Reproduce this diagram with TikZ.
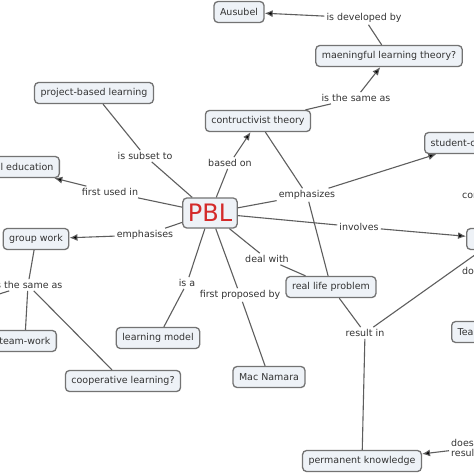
\documentclass[tikz,border=0pt]{standalone}
\usepackage{fontspec}
\setmainfont{DejaVu Sans}
\usetikzlibrary{arrows.meta}
\definecolor{boxfill}{HTML}{EEF2F7}
\definecolor{boxline}{HTML}{737373}
\definecolor{linkc}{HTML}{5E5E5E}
\definecolor{txt}{HTML}{333333}
\definecolor{pblred}{HTML}{D42A2A}
\tikzset{
  concept/.style={draw=boxline, fill=boxfill, rounded corners=4pt, line width=1.3pt,
    inner xsep=6pt, inner ysep=3pt, minimum height=21pt, text=txt, font=\fontsize{9.5}{11}\selectfont},
  lbl/.style={inner sep=2pt, text=txt, font=\fontsize{9.5}{11}\selectfont},
  link/.style={draw=linkc, line width=1.1pt},
  arr/.style={link, -{Latex[length=8pt,width=7pt,fill=black]}},
}
\begin{document}
\begin{tikzpicture}[x=1pt,y=-1pt]
\useasboundingbox[fill=white] (0,0) rectangle (474,474);
% concepts
\node[concept] (aus) at (239,12) {Ausubel};
\node[concept] (mlt) at (389,56) {maeningful learning theory?};
\node[concept] (ct) at (258,121) {contructivist theory};
\node[concept] (pbll) at (94,93) {project-based learning};
\node[concept, minimum height=30pt, inner xsep=5pt, text=pblred, font=\fontsize{24}{27}\selectfont] (pbl) at (210,213) {PBL};
\node[concept, anchor=east] (med) at (60,167) {medical education};
\node[concept] (gw) at (36,239) {group work};
\node[concept, anchor=east] (tw) at (57,341) {team-work};
\node[concept] (coop) at (123,381) {cooperative learning?};
\node[concept] (lm) at (158,338) {learning model};
\node[concept] (mac) at (269,377) {Mac Namara};
\node[concept] (rlp) at (331,287) {real life problem};
\node[concept, anchor=west] (stc) at (424,143) {student-centered};
\node[concept, anchor=west, inner xsep=10pt] (rn) at (466,239) {students};
\node[concept, anchor=west] (tea) at (451,332) {Teacher};
\node[concept] (pk) at (362,461) {permanent knowledge};
% linking phrases
\node[lbl] (dev) at (364,18) {is developed by};
\node[lbl] (same1) at (356,98) {is the same as};
\node[lbl] (subset) at (145,156) {is subset to};
\node[lbl] (based) at (230,163) {based on};
\node[lbl] (first) at (110,192) {first used in};
\node[lbl] (emph1) at (145,235) {emphasises};
\node[lbl] (same2) at (28,285) {is the same as};
\node[lbl] (isa) at (187,283) {is a};
\node[lbl] (fpb) at (240,295) {first proposed by};
\node[lbl] (deal) at (267,259) {deal with};
\node[lbl] (emph2) at (307,195) {emphasizes};
\node[lbl] (inv) at (359,227) {involves};
\node[lbl] (res) at (365,333) {result in};
\node[lbl, anchor=west] (con) at (460,195) {consists of};
\node[lbl, anchor=west] (doe) at (460,271) {does};
\node[lbl, anchor=west, align=left, font=\fontsize{9.5}{10.5}\selectfont] (dnr) at (449,448) {does not\\result in};
\coordinate (offl) at (-20,300);
% connectors
\draw[arr] (dev) -- (aus);
\draw[link] (mlt) -- (dev);
\draw[arr] (same1) -- (mlt);
\draw[link] (ct) -- (same1);
\draw[link] (pbll) -- (subset);
\draw[link] (subset) -- (pbl);
\draw[link] (pbl) -- (based);
\draw[arr] (based) -- (ct);
\draw[link] (pbl) -- (first);
\draw[arr] (first) -- (med);
\draw[link] (pbl) -- (emph1);
\draw[arr] (emph1) -- (gw);
\draw[link] (gw) -- (same2);
\draw[link] (same2) -- (tw);
\draw[link] (same2) -- (coop);
\draw[link] (same2) -- (offl);
\draw[link] (pbl) -- (isa);
\draw[link] (isa) -- (lm);
\draw[link] (pbl) -- (fpb);
\draw[link] (fpb) -- (mac);
\draw[link] (pbl) -- (deal);
\draw[link] (deal) -- (rlp);
\draw[link] (pbl) -- (emph2);
\draw[link] (ct) -- (emph2);
\draw[arr] (emph2) -- (stc);
\draw[link] (emph2) -- (rlp);
\draw[link] (pbl) -- (inv);
\draw[arr] (inv) -- (rn);
\draw[link] (rlp) -- (res);
\draw[link] (res) -- (rn);
\draw[link] (res) -- (pk);
\draw[arr] (dnr) -- (pk);
\end{tikzpicture}
\end{document}
